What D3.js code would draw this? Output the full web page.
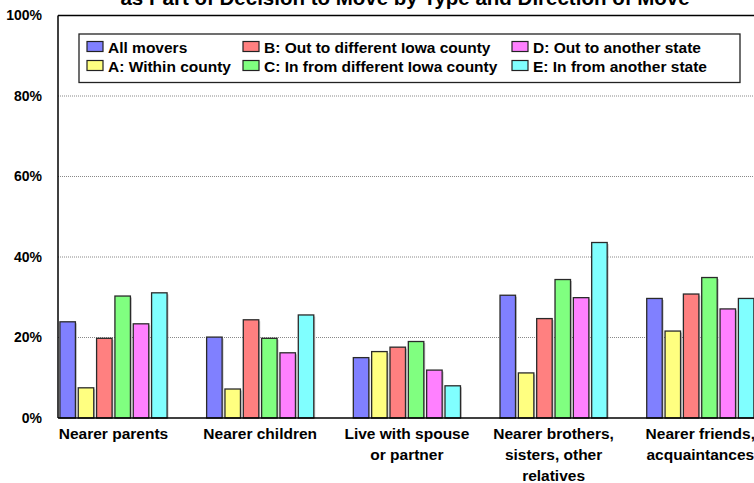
<!DOCTYPE html>
<html>
<head>
<meta charset="utf-8">
<script src="https://cdn.jsdelivr.net/npm/d3@7/dist/d3.min.js"></script>
<style>
  html, body { margin: 0; padding: 0; background: #fff; }
  svg { display: block; font-family: "Liberation Sans", Arial, sans-serif; }
</style>
</head>
<body>
<div id="chart"></div>
<script>
// ---- data ----
const categories = [
  "Nearer parents",
  "Nearer children",
  "Live with spouse or partner",
  "Nearer brothers, sisters, other relatives",
  "Nearer friends, acquaintances"
];
const categoryLines = [
  ["Nearer parents"],
  ["Nearer children"],
  ["Live with spouse", "or partner"],
  ["Nearer brothers,", "sisters, other", "relatives"],
  ["Nearer friends,", "acquaintances"]
];
const seriesNames = [
  "All movers",
  "A: Within county",
  "B: Out to different Iowa county",
  "C: In from different Iowa county",
  "D: Out to another state",
  "E: In from another state"
];
const allMovers   = [23.9, 20.1, 15.0, 30.5, 29.7];
const withinCounty = [7.5, 7.2, 16.5, 11.2, 21.6];
const outIowa     = [19.8, 24.4, 17.6, 24.7, 30.8];
const inIowa      = [30.3, 19.8, 19.0, 34.4, 34.9];
const outState    = [23.4, 16.2, 11.9, 29.9, 27.1];
const inState     = [31.1, 25.6, 8.0, 43.6, 29.7];
const seriesValues = [allMovers, withinCounty, outIowa, inIowa, outState, inState];
const yTicks = [0, 20, 40, 60, 80, 100];
const titleText = "as Part of Decision to Move by Type and Direction of Move";

const colors = ["#8080FF", "#FFFF80", "#FF8080", "#80FF80", "#FF80FF", "#80FFFF"];

// ---- layout ----
const W = 754, H = 483;
const plotLeft = 58, plotTop = 15.5, plotBottom = 418;
const bandW = 146.7;

const svg = d3.select("#chart").append("svg").attr("width", W).attr("height", H);

const x0 = d3.scaleBand().domain(categories)
  .range([plotLeft, plotLeft + bandW * categories.length]).padding(0);
const x1 = d3.scaleBand().domain(seriesNames)
  .range([0.5, 110.5]).paddingInner(0.155).paddingOuter(0.0775);
const y = d3.scaleLinear().domain([0, 100]).range([plotBottom, plotTop]);

// title (mostly cropped at top, as in the reference)
svg.append("text")
  .attr("x", 405).attr("y", 5)
  .attr("text-anchor", "middle")
  .attr("font-weight", "bold").attr("font-size", 20.5)
  .attr("fill", "#000")
  .text(titleText);

// gridlines (dotted)
svg.append("g").selectAll("line")
  .data(yTicks.filter(t => t > 0 && t < 100))
  .join("line")
  .attr("x1", plotLeft).attr("x2", W)
  .attr("y1", d => y(d)).attr("y2", d => y(d))
  .attr("stroke", "#888").attr("stroke-width", 1)
  .attr("stroke-dasharray", "1,1");

// y-axis via d3
const yAxis = d3.axisLeft(y).tickValues(yTicks).tickFormat(d => d + "%").tickSize(0).tickPadding(16);
const yg = svg.append("g").attr("transform", `translate(${plotLeft},0)`).call(yAxis);
yg.select(".domain").remove();
yg.selectAll("text").attr("font-size", 14).attr("font-weight", "bold")
  .attr("font-family", "'Liberation Sans', Arial, sans-serif").attr("fill", "#000");

// frame: top line
svg.append("line").attr("x1", plotLeft).attr("x2", W).attr("y1", y(100)).attr("y2", y(100))
  .attr("stroke", "#000").attr("stroke-width", 1.3);

// bars
const groups = svg.append("g").selectAll("g")
  .data(categories)
  .join("g")
  .attr("transform", d => `translate(${x0(d)},0)`);

groups.selectAll("rect.shadow")
  .data((c, ci) => seriesNames.map((s, si) => ({ s, si, v: seriesValues[si][ci] })))
  .join("rect")
  .attr("class", "shadow")
  .attr("x", d => x1(d.s) + 1.5)
  .attr("y", d => y(d.v) + 1.5)
  .attr("width", x1.bandwidth())
  .attr("height", d => plotBottom - y(d.v) - 1.5)
  .attr("fill", "#c8c8c8");

groups.selectAll("rect.bar")
  .data((c, ci) => seriesNames.map((s, si) => ({ s, si, v: seriesValues[si][ci] })))
  .join("rect")
  .attr("class", "bar")
  .attr("x", d => x1(d.s))
  .attr("y", d => y(d.v))
  .attr("width", x1.bandwidth())
  .attr("height", d => plotBottom - y(d.v))
  .attr("fill", d => colors[d.si])
  .attr("stroke", "#2a2a2a").attr("stroke-width", 1.3);

// axes lines
svg.append("line").attr("x1", plotLeft).attr("x2", plotLeft).attr("y1", y(100)).attr("y2", plotBottom)
  .attr("stroke", "#000").attr("stroke-width", 1.5);
svg.append("line").attr("x1", plotLeft).attr("x2", W).attr("y1", plotBottom).attr("y2", plotBottom)
  .attr("stroke", "#000").attr("stroke-width", 1.5);

// category labels
const cx = d => x0(d) + x1.range()[0] + (x1.range()[1] - x1.range()[0]) / 2;
svg.append("g").selectAll("text")
  .data(categories)
  .join("text")
  .attr("text-anchor", "middle")
  .attr("font-weight", "bold").attr("font-size", 15.5).attr("fill", "#000")
  .each(function (d, i) {
    const t = d3.select(this);
    categoryLines[i].forEach((ln, k) => {
      t.append("tspan").attr("x", cx(d)).attr("y", 438.5 + k * 21).text(ln);
    });
  });

// legend
const lg = svg.append("g");
lg.append("rect").attr("x", 79).attr("y", 34).attr("width", 661).attr("height", 48.5)
  .attr("fill", "#fff").attr("stroke", "#222").attr("stroke-width", 1.3);
const colX = [87, 243, 512];
const rowY = [47, 66];
seriesNames.forEach((s, i) => {
  const col = Math.floor(i / 2), row = i % 2;
  const gx = colX[col], gy = rowY[row];
  lg.append("rect").attr("x", gx).attr("y", gy - 5.5).attr("width", 16).attr("height", 10)
    .attr("fill", colors[i]).attr("stroke", "#222").attr("stroke-width", 1.2);
  lg.append("text").attr("x", gx + 21).attr("y", gy + 6)
    .attr("font-weight", "bold").attr("font-size", 15.5).attr("fill", "#000")
    .text(s);
});
</script>
</body>
</html>
